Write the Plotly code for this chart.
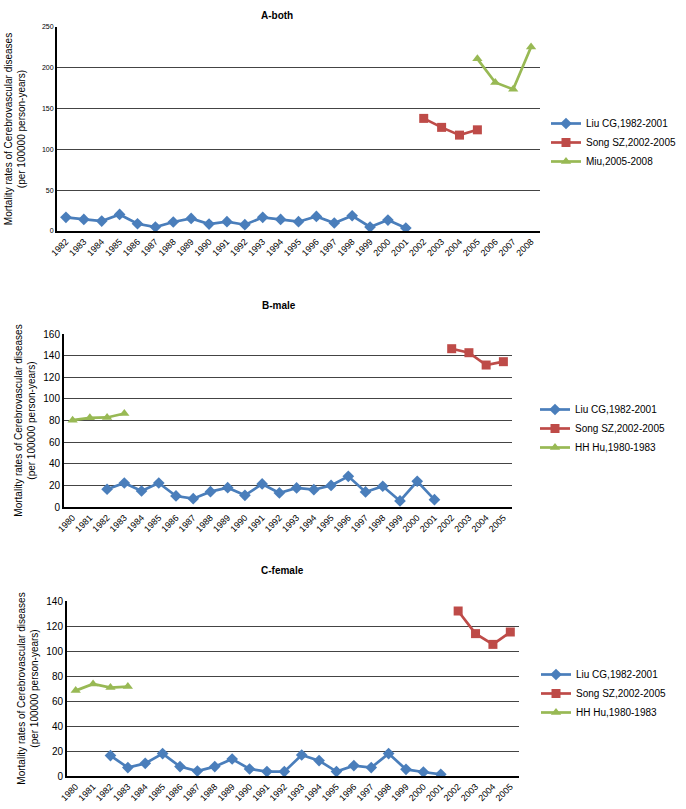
import plotly.graph_objects as go

# ---------- data ----------
years_a = [str(y) for y in range(1982, 2009)]
years_bc = [str(y) for y in range(1980, 2006)]

liu_years = [str(y) for y in range(1982, 2002)]
song_years = ["2002", "2003", "2004", "2005"]
miu_years = ["2005", "2006", "2007", "2008"]
hu_years = ["1980", "1981", "1982", "1983"]

a_liu = [16.7, 14.2, 12.2, 20.3, 8.9, 4.9, 11.0, 15.4, 8.5, 11.4,
         7.7, 16.7, 14.2, 11.4, 17.9, 9.8, 18.7, 4.9, 13.4, 3.7]
a_song = [138, 127, 117.5, 124]
a_miu = [211, 182, 173.6, 225.6]

b_liu = [16.4, 22.2, 14.8, 22.2, 10.2, 7.7, 14.2, 17.9, 10.8, 21.3,
         13.0, 17.6, 16.0, 20.0, 28.4, 13.9, 19.2, 5.6, 23.8, 6.8]
b_song = [146.4, 142.7, 131.3, 134.4]
b_hu = [80.3, 82.5, 82.8, 86.5]

c_liu = [16.3, 6.7, 10.1, 17.9, 7.5, 4.0, 7.5, 13.6, 5.6, 3.5,
         3.5, 16.8, 12.3, 3.5, 8.3, 6.7, 17.9, 5.3, 3.2, 1.3]
c_song = [132, 113.9, 105.3, 115.2]
c_hu = [68.3, 73.6, 70.7, 71.5]

titles = ["A-both", "B-male", "C-female"]
ytitle = "Mortality rates of Cerebrovascular diseases<br>(per 100000 person-years)"

# ---------- styling ----------
W, H = 686, 809
BLUE, RED, GREEN = "#4A7EBB", "#BE4B48", "#98B954"
FONT = "Liberation Sans, Arial, sans-serif"

def px_x(p):
    return p / W

def px_y(p):
    return 1 - p / H

fig = go.Figure()

panels = [
    dict(cats=years_a, xd=(57, 540), yd=(27, 231), yr=250, dt=50, tfs=7, so=14,
         series=[("Liu CG,1982-2001", liu_years, a_liu, BLUE, "diamond"),
                 ("Song SZ,2002-2005", song_years, a_song, RED, "square"),
                 ("Miu,2005-2008", miu_years, a_miu, GREEN, "triangle-up")],
         legx=546, legy=109, title_x=277, title_y=8),
    dict(cats=years_bc, xd=(64, 512), yd=(334, 507), yr=160, dt=20, tfs=10, so=6,
         series=[("Liu CG,1982-2001", liu_years, b_liu, BLUE, "diamond"),
                 ("Song SZ,2002-2005", song_years, b_song, RED, "square"),
                 ("HH Hu,1980-1983", hu_years, b_hu, GREEN, "triangle-up")],
         legx=535, legy=395, title_x=279, title_y=305),
    dict(cats=years_bc, xd=(67, 519), yd=(601, 776), yr=140, dt=20, tfs=10, so=6,
         series=[("Liu CG,1982-2001", liu_years, c_liu, BLUE, "diamond"),
                 ("Song SZ,2002-2005", song_years, c_song, RED, "square"),
                 ("HH Hu,1980-1983", hu_years, c_hu, GREEN, "triangle-up")],
         legx=536, legy=660, title_x=282, title_y=578),
]

layout = {}
annotations = []
for i, p in enumerate(panels):
    n = "" if i == 0 else str(i + 1)
    lg = "legend" if i == 0 else f"legend{i + 1}"
    for name, xs, ys, col, sym in p["series"]:
        fig.add_trace(go.Scatter(
            x=xs, y=ys, name=name, mode="lines+markers",
            line=dict(color=col, width=2.7),
            marker=dict(symbol=sym, size=9, color=col),
            xaxis="x" + n, yaxis="y" + n, legend=lg,
        ))
    layout["xaxis" + n] = dict(
        domain=[px_x(p["xd"][0]), px_x(p["xd"][1])],
        anchor="y" + n, type="category", categoryorder="array",
        categoryarray=p["cats"], range=[-0.5, len(p["cats"]) - 0.5],
        tickangle=-45, tickfont=dict(size=9, color="#000"),
        showline=True, linecolor="#000", linewidth=2, showgrid=False,
        ticks="", fixedrange=True, automargin=False,
    )
    layout["yaxis" + n] = dict(
        domain=[px_y(p["yd"][1]), px_y(p["yd"][0])],
        anchor="x" + n, range=[0, p["yr"]], dtick=p["dt"],
        tickfont=dict(size=p["tfs"], color="#000"),
        showline=True, linecolor="#000", linewidth=2,
        showgrid=True, gridcolor="#444", gridwidth=1.3,
        zeroline=False, ticks="", automargin=False,
        title=dict(text=ytitle, font=dict(size=10, color="#000"), standoff=p["so"]),
    )
    layout[lg] = dict(
        x=px_x(p["legx"]), y=px_y(p["legy"]), xanchor="left", yanchor="top",
        font=dict(size=10, color="#000"), bgcolor="rgba(0,0,0,0)",
        itemwidth=30, tracegroupgap=0,
    )
    annotations.append(dict(
        text=f"<b>{titles[i]}</b>", x=px_x(p["title_x"]),
        y=px_y(p["title_y"]), xref="paper", yref="paper",
        showarrow=False, font=dict(size=10, color="#000"),
    ))

fig.update_layout(
    width=W, height=H, margin=dict(l=0, r=0, t=0, b=0, autoexpand=False),
    paper_bgcolor="white", plot_bgcolor="white",
    font=dict(family=FONT, color="#000"),
    annotations=annotations, **layout,
)

fig.write_html("out.html", config={"displayModeBar": False},
               post_script="document.body.style.margin='0';document.body.style.overflow='hidden';")
